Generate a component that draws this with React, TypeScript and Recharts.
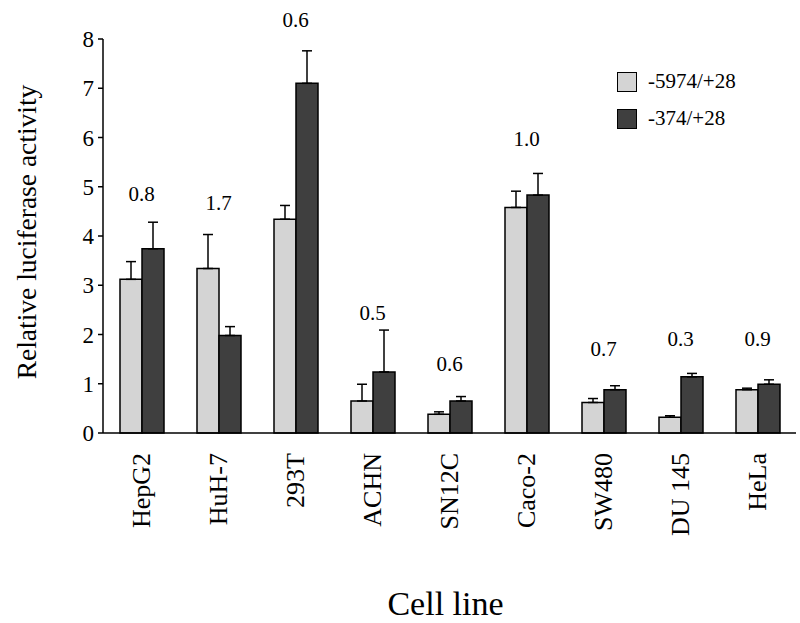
import React from 'react';
import { ComposedChart, Bar, XAxis, YAxis, ErrorBar, Legend, Label, ReferenceDot } from 'recharts';

const cells = ['HepG2', 'HuH-7', '293T', 'ACHN', 'SN12C', 'Caco-2', 'SW480', 'DU 145', 'HeLa'];
const longPromoter = [3.12, 3.34, 4.34, 0.65, 0.38, 4.58, 0.62, 0.32, 0.88];
const longErr = [0.36, 0.69, 0.28, 0.34, 0.05, 0.33, 0.08, 0.03, 0.03];
const shortPromoter = [3.74, 1.98, 7.1, 1.24, 0.65, 4.83, 0.88, 1.14, 0.99];
const shortErr = [0.54, 0.18, 0.66, 0.85, 0.09, 0.44, 0.08, 0.07, 0.09];
const ratios = ['0.8', '1.7', '0.6', '0.5', '0.6', '1.0', '0.7', '0.3', '0.9'];
const ratioAt = [4.87, 4.67, 8.39, 2.44, 1.42, 5.97, 1.71, 1.91, 1.91];
const yTicks = [0, 1, 2, 3, 4, 5, 6, 7, 8];
const edgeTicks = [1, 2, 3, 4, 5, 6, 7, 8, 9];

const FONT = "'Liberation Serif', 'Times New Roman', serif";
const LIGHT = '#d4d4d4';
const DARK = '#3f3f3f';

const series = [
  { name: '-5974/+28', color: LIGHT },
  { name: '-374/+28', color: DARK },
];

const data = cells.map((cell, i) => ({
  cell,
  long: longPromoter[i],
  longErr: [0, longErr[i]],
  short: shortPromoter[i],
  shortErr: [0, shortErr[i]],
}));

const CellTick = (props: any) => {
  const { x, y, payload } = props;
  return (
    <g transform={`translate(${x},${y}) rotate(-90)`}>
      <text x={0} y={0} dy="0.33em" textAnchor="end" fontFamily={FONT} fontSize={26} fill="#000">
        {payload.value}
      </text>
    </g>
  );
};

// legend drawn from our own series list so the order matches the figure
const LegendBox = () => (
  <div style={{ fontFamily: FONT, fontSize: 21, color: '#000' }}>
    {series.map((s) => (
      <div key={s.name} style={{ display: 'flex', alignItems: 'center', height: 37 }}>
        <span style={{ width: 18, height: 18, background: s.color, border: '1.5px solid #000', display: 'inline-block' }} />
        <span style={{ marginLeft: 11 }}>{s.name}</span>
      </div>
    ))}
  </div>
);

export default function App() {
  return (
    <div style={{ position: 'absolute', left: 0, top: 0, width: 800, height: 623, background: '#fff', fontFamily: FONT }}>
      <ComposedChart width={800} height={623} data={data} margin={{ top: 39, right: 4, bottom: 0, left: 0 }}
        barGap={0} style={{ fontFamily: FONT }}>
        <XAxis xAxisId="edge" type="number" domain={[0, 9]} ticks={edgeTicks} allowDataOverflow
          height={0} axisLine={false} tick={false} tickSize={-5} tickLine={{ stroke: '#000', strokeWidth: 1.5 }} />
        <XAxis dataKey="cell" height={190} tickLine={false} tickSize={0} tickMargin={20} interval={0} tick={<CellTick />}
          axisLine={{ stroke: '#000', strokeWidth: 1.5 }}>
          <Label content={({ viewBox }: any) => (
            <text x={viewBox.x + viewBox.width / 2 - 4} y={viewBox.y + 182} textAnchor="middle"
              fontFamily={FONT} fontSize={34} fill="#000">Cell line</text>
          )} />
        </XAxis>
        <YAxis domain={[0, 8]} ticks={yTicks} width={103} tickSize={5} tickMargin={4}
          axisLine={{ stroke: '#000', strokeWidth: 1.5 }} tickLine={{ stroke: '#000', strokeWidth: 1.5 }}
          tick={{ fill: '#000', fontFamily: FONT, fontSize: 23 }}>
          <Label content={({ viewBox }: any) => {
            const cy = viewBox.y + viewBox.height / 2 - 4;
            return (
              <text x={26} y={cy} transform={`rotate(-90, 26, ${cy})`} textAnchor="middle" dominantBaseline="central"
                fontFamily={FONT} fontSize={27.5} fill="#000">Relative luciferase activity</text>
            );
          }} />
        </YAxis>
        <Legend layout="vertical" align="center" verticalAlign="middle" content={<LegendBox />}
          wrapperStyle={{ left: 617, top: 63, width: 170 }} />
        <Bar dataKey="long" name={series[0].name} fill={LIGHT} stroke="#000" strokeWidth={1.5} barSize={22} isAnimationActive={false}>
          <ErrorBar dataKey="longErr" direction="y" width={5} stroke="#000" strokeWidth={1.5} />
        </Bar>
        <Bar dataKey="short" name={series[1].name} fill={DARK} stroke="#000" strokeWidth={1.5} barSize={22} isAnimationActive={false}>
          <ErrorBar dataKey="shortErr" direction="y" width={5} stroke="#000" strokeWidth={1.5} />
        </Bar>
        {cells.map((cell, i) => (
          <ReferenceDot key={cell} x={cell} y={ratioAt[i]} r={0} fill="none" stroke="none" ifOverflow="visible"
            label={{ value: ratios[i], position: 'center', fill: '#000', fontFamily: FONT, fontSize: 21 }} />
        ))}
      </ComposedChart>
    </div>
  );
}
